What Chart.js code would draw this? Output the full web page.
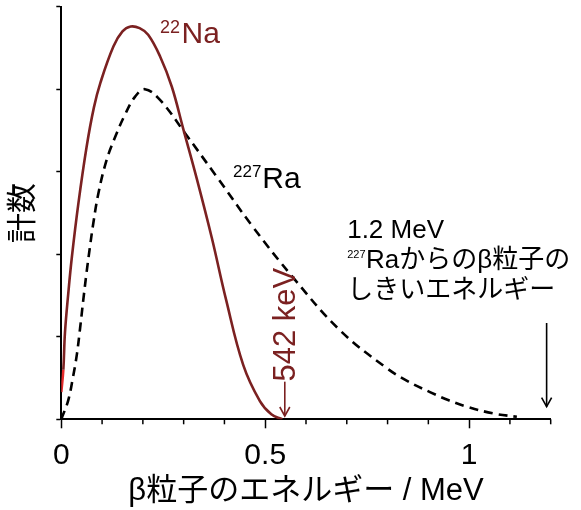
<!DOCTYPE html>
<html>
<head>
<meta charset="utf-8">
<script src="https://cdn.jsdelivr.net/npm/chart.js@4"></script>
<style>
html,body{margin:0;padding:0;background:#fff;}
#wrap{width:581px;height:510px;}
</style>
</head>
<body>
<div id="wrap"><canvas id="c" width="581" height="510"></canvas></div>
<script>
// ---- data ----
const na22Energy = [0, 0.005, 0.009, 0.017, 0.026, 0.042, 0.062, 0.080, 0.096, 0.128, 0.150, 0.170, 0.192, 0.213, 0.242, 0.271, 0.299, 0.332, 0.369, 0.404, 0.446, 0.487, 0.515, 0.542];
const na22Counts = [0.33, 0.60, 1.05, 1.52, 1.97, 2.62, 3.30, 3.78, 4.08, 4.52, 4.70, 4.76, 4.74, 4.66, 4.40, 4.03, 3.52, 2.92, 2.20, 1.45, 0.66, 0.22, 0.06, 0];
const ra227Energy = [0, 0.017, 0.029, 0.038, 0.046, 0.054, 0.062, 0.070, 0.078, 0.091, 0.111, 0.132, 0.156, 0.181, 0.205, 0.242, 0.303, 0.381, 0.470, 0.568, 0.683, 0.798, 0.850, 0.904, 0.950, 0.997, 1.06, 1.117];
const ra227Counts = [0, 0.23, 0.52, 0.78, 1.10, 1.45, 1.78, 2.08, 2.36, 2.74, 3.14, 3.42, 3.69, 3.91, 4.00, 3.87, 3.47, 2.94, 2.33, 1.72, 1.08, 0.62, 0.46, 0.33, 0.23, 0.15, 0.07, 0.03];
const xMajorTicks = [0, 0.5, 1];
const xMajorLabels = ['0', '0.5', '1'];
const xAxisTitle = 'β粒子のエネルギー / MeV';
const yAxisTitle = '計数';
const na22Label = ['22', 'Na'];
const ra227Label = ['227', 'Ra'];
const na22EndLabel = '542 keV';
const thresholdLines = ['1.2 MeV', ['227', 'Raからのβ粒子の'], 'しきいエネルギー'];
const na22EndEnergy = 0.548;   // arrow marker position (MeV)
const ra227ThresholdEnergy = 1.19; // arrow marker position (MeV)

// ---- styles ----
const FONT = '"Liberation Sans", "Noto Sans CJK JP", sans-serif';
const RED = '#7b2121';
const BRIGHT_RED = '#e42a2a';

Chart.defaults.font.family = FONT;
Chart.defaults.color = '#000';

const isMajor = v => xMajorTicks.some(t => Math.abs(t - v) < 1e-6);

function arrowDown(ctx, x, y1, y2, color) {
  ctx.strokeStyle = color; ctx.lineWidth = 1.6;
  ctx.beginPath(); ctx.moveTo(x, y1); ctx.lineTo(x, y2); ctx.stroke();
  ctx.beginPath(); ctx.moveTo(x - 5, y2 - 9); ctx.lineTo(x, y2); ctx.lineTo(x + 5, y2 - 9); ctx.stroke();
}
function supText(ctx, px, py, sup, supSize, supRise, main, mainSize, gap, color) {
  ctx.fillStyle = color; ctx.textAlign = 'left'; ctx.textBaseline = 'alphabetic';
  ctx.font = supSize + 'px ' + FONT;
  ctx.fillText(sup, px, py - supRise);
  const w = ctx.measureText(sup).width;
  ctx.font = mainSize + 'px ' + FONT;
  ctx.fillText(main, px + w + gap, py);
}

const annotations = {
  id: 'annotations',
  afterDraw(chart) {
    const {ctx, chartArea, scales: {x, y}} = chart;
    ctx.save();
    // minor x ticks
    ctx.strokeStyle = '#000'; ctx.lineWidth = 1.5;
    x.ticks.forEach(t => {
      if (isMajor(t.value)) return;
      const px = x.getPixelForValue(t.value);
      ctx.beginPath(); ctx.moveTo(px, chartArea.bottom); ctx.lineTo(px, chartArea.bottom + 5); ctx.stroke();
    });
    // series labels
    supText(ctx, x.getPixelForValue(0.242), y.getPixelForValue(4.56), na22Label[0], 18, 10.5, na22Label[1], 30, 1.5, RED);
    supText(ctx, x.getPixelForValue(0.421), y.getPixelForValue(2.80), ra227Label[0], 17, 11, ra227Label[1], 30, 1, '#000');
    // 542 keV marker
    const ex = x.getPixelForValue(na22EndEnergy);
    arrowDown(ctx, ex, y.getPixelForValue(0.456), y.getPixelForValue(0.04), RED);
    ctx.save();
    ctx.translate(x.getPixelForValue(0.573), y.getPixelForValue(0.458));
    ctx.rotate(-Math.PI / 2);
    ctx.fillStyle = RED; ctx.font = '31px ' + FONT; ctx.textAlign = 'left'; ctx.textBaseline = 'alphabetic';
    ctx.fillText(na22EndLabel, 0, 0);
    ctx.restore();
    // threshold annotation
    const tx = x.getPixelForValue(0.701);
    const ty = y.getPixelForValue(2.194);
    ctx.fillStyle = '#000'; ctx.textAlign = 'left'; ctx.textBaseline = 'alphabetic';
    thresholdLines.forEach((line, i) => {
      const by = ty + i * 30;
      if (Array.isArray(line)) {
        supText(ctx, tx, by, line[0], 11, 10.5, line[1], 26, 0.5, '#000');
      } else {
        ctx.font = '26px ' + FONT; ctx.fillStyle = '#000';
        ctx.fillText(line, tx, by);
      }
    });
    arrowDown(ctx, x.getPixelForValue(ra227ThresholdEnergy), y.getPixelForValue(1.167), y.getPixelForValue(0.153), '#000');
    ctx.restore();
  }
};

new Chart(document.getElementById('c'), {
  type: 'line',
  data: {
    datasets: [
      {
        label: '22Na',
        data: na22Energy.map((e, i) => ({x: e, y: na22Counts[i]})),
        borderColor: RED,
        borderWidth: 2.6,
        pointRadius: 0,
        fill: false,
        tension: 0.4,
        segment: { borderColor: c => c.p0DataIndex === 0 ? BRIGHT_RED : RED }
      },
      {
        label: '227Ra',
        data: ra227Energy.map((e, i) => ({x: e, y: ra227Counts[i]})),
        borderColor: '#000',
        borderWidth: 2.6,
        borderDash: [9, 6],
        pointRadius: 0,
        fill: false,
        tension: 0.4
      }
    ]
  },
  options: {
    responsive: false,
    animation: false,
    devicePixelRatio: 1,
    layout: { padding: { left: 8.5, right: 30.3, top: 6.7, bottom: 0 } },
    plugins: { legend: { display: false }, tooltip: { enabled: false } },
    scales: {
      x: {
        type: 'linear',
        min: 0, max: 1.2,
        border: { display: true, color: '#000', width: 2 },
        grid: {
          display: true, drawOnChartArea: false, tickLength: 9, tickWidth: 1.5,
          tickColor: c => (c.tick && isMajor(c.tick.value)) ? '#000' : 'rgba(0,0,0,0)'
        },
        ticks: {
          stepSize: 0.1, autoSkip: false, maxRotation: 0, padding: 12.2,
          font: { size: 30, lineHeight: 1 }, color: '#000',
          callback: v => { const i = xMajorTicks.findIndex(t => Math.abs(t - v) < 1e-6); return i >= 0 ? xMajorLabels[i] : ''; }
        },
        title: { display: true, text: xAxisTitle, color: '#000', font: { size: 31, lineHeight: 0.568 }, padding: { top: 0, bottom: 9.7 } }
      },
      y: {
        type: 'linear',
        min: 0, max: 5,
        border: { display: true, color: '#000', width: 2 },
        grid: { display: true, drawOnChartArea: false, tickLength: 5, tickWidth: 1.5, tickColor: '#000' },
        ticks: { display: false, stepSize: 1 },
        title: { display: true, text: yAxisTitle, color: '#000', font: { size: 30, lineHeight: 1 }, padding: { top: 0, bottom: 17.8 } }
      }
    }
  },
  plugins: [annotations]
});
</script>
</body>
</html>
